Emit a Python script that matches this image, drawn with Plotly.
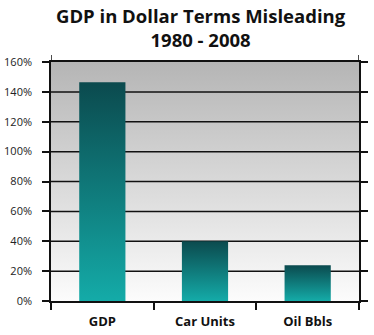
import plotly.graph_objects as go

# Growth 1980 - 2008, in percent
categories = ["GDP", "Car Units", "Oil Bbls"]
growth_pct = [146.5, 40, 24]
y_ticks = [0, 20, 40, 60, 80, 100, 120, 140, 160]
y_tick_labels = [f"{t}%" for t in y_ticks]

BAR_WIDTH = 0.45
LINE = "#111111"
x_pos = list(range(len(categories)))
x_lo, x_hi = -0.5, len(categories) - 0.5
y_top = y_ticks[-1]

fig = go.Figure()

# plot area background: grey at the top fading to near-white at the bottom
fig.add_trace(go.Scatter(
    x=[x_lo, x_hi, x_hi, x_lo, x_lo], y=[0, 0, y_top, y_top, 0],
    mode="none", fill="toself",
    fillgradient=dict(type="vertical", colorscale=[[0, "#fcfcfc"], [1, "#b5b5b5"]]),
    hoverinfo="skip", showlegend=False,
))

# horizontal grid lines, drawn between the background and the bars
gx, gy = [], []
for t in y_ticks[1:-1]:
    gx += [x_lo, x_hi, None]
    gy += [t, t, None]
fig.add_trace(go.Scatter(
    x=gx, y=gy, mode="lines", line=dict(color=LINE, width=1.5),
    hoverinfo="skip", showlegend=False,
))

# bars with a dark-to-light teal gradient
for xc, v, name in zip(x_pos, growth_pct, categories):
    x0, x1 = xc - BAR_WIDTH / 2, xc + BAR_WIDTH / 2
    fig.add_trace(go.Scatter(
        x=[x0, x1, x1, x0, x0], y=[0, 0, v, v, 0],
        mode="lines", fill="toself", line=dict(width=0),
        fillgradient=dict(type="vertical", colorscale=[[0, "#14aba8"], [1, "#0b4a4e"]]),
        name=name, hovertemplate=f"{name}: {v}%<extra></extra>", showlegend=False,
    ))

# short extensions of the frame's vertical edges above the top
for xe in (x_lo, x_hi):
    fig.add_shape(type="line", xref="x", yref="paper", ysizemode="pixel", yanchor=1,
                  x0=xe, x1=xe, y0=0, y1=7, line=dict(color=LINE, width=1.5))

fig.add_annotation(
    text="GDP in Dollar Terms Misleading<br>1980 - 2008",
    xref="paper", yref="paper", x=0.487, y=1.254, xanchor="center", yanchor="top",
    showarrow=False, font=dict(size=18.5, weight="bold", color="#111"),
)

fig.update_layout(
    width=374, height=335,
    margin=dict(l=51, r=15, t=62, b=34),
    paper_bgcolor="white", plot_bgcolor="white",
    font=dict(family="Open Sans", color="#111"),
    xaxis=dict(
        range=[x_lo, x_hi], tickmode="array", tickvals=x_pos, ticktext=categories,
        ticks="", showgrid=False, zeroline=False, automargin=False,
        showline=True, linecolor=LINE, linewidth=1.5, mirror=True,
        tickfont=dict(size=13, weight="bold", color="#111"),
        ticklabelstandoff=8,
        minor=dict(tickmode="array", tickvals=[x_lo, 0.5, 1.5, x_hi], ticks="outside",
                   ticklen=7, tickwidth=1.5, tickcolor=LINE, showgrid=False),
    ),
    yaxis=dict(
        range=[0, y_top], tickmode="array", tickvals=y_ticks, ticktext=y_tick_labels,
        ticks="outside", ticklen=7, tickwidth=1.5, tickcolor=LINE,
        showline=True, linecolor=LINE, linewidth=1.5, mirror="ticks",
        showgrid=False, zeroline=False, automargin=False,
        tickfont=dict(size=11, color="#222"), ticklabelstandoff=8,
    ),
)

fig.write_html("out.html")
